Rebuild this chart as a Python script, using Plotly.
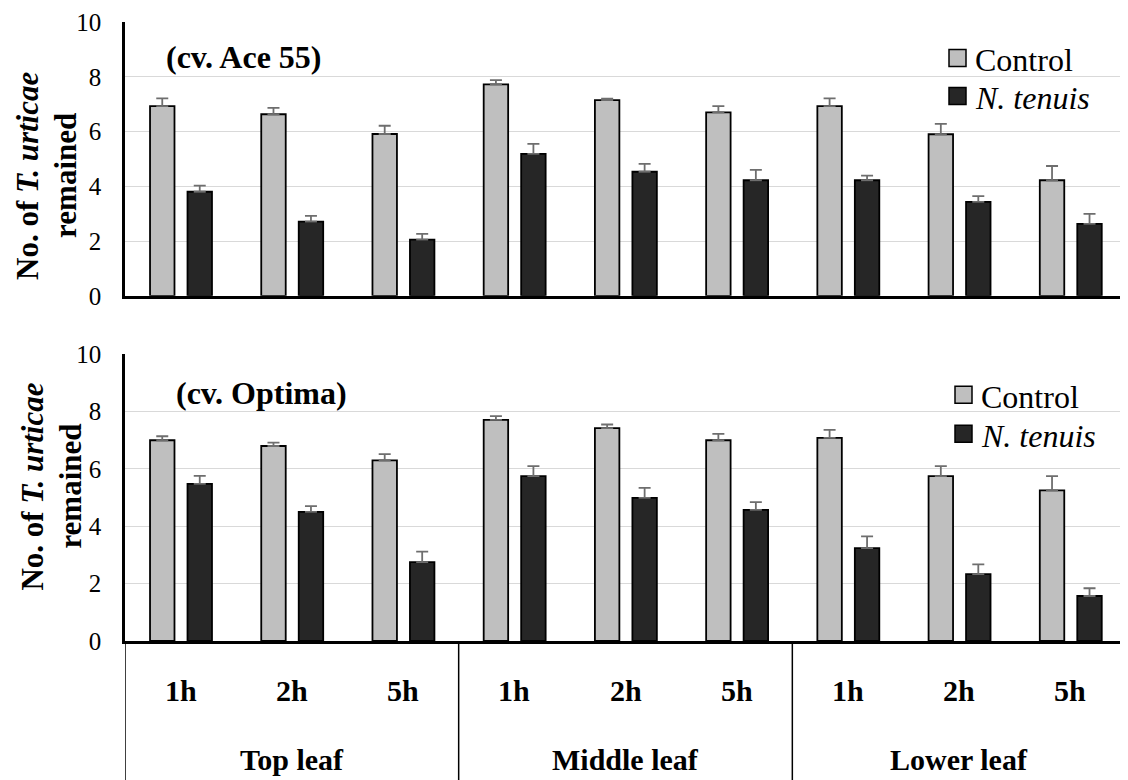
import plotly.graph_objects as go

# ---------------- data ----------------
leaves = ["Top leaf", "Middle leaf", "Lower leaf"]
times = ["1h", "2h", "5h"]
categories = [f"{leaf} {t}" for leaf in leaves for t in times]

ace_control = [6.93, 6.63, 5.91, 7.72, 7.15, 6.70, 6.93, 5.90, 4.22]
ace_control_err = [0.28, 0.23, 0.30, 0.16, 0.05, 0.23, 0.28, 0.38, 0.52]
ace_nt = [3.80, 2.71, 2.05, 5.18, 4.53, 4.22, 4.22, 3.43, 2.63]
ace_nt_err = [0.22, 0.21, 0.21, 0.37, 0.29, 0.38, 0.17, 0.21, 0.36]

opt_control = [7.00, 6.80, 6.30, 7.71, 7.42, 7.00, 7.08, 5.75, 5.25]
opt_control_err = [0.14, 0.12, 0.22, 0.13, 0.13, 0.22, 0.28, 0.35, 0.50]
opt_nt = [5.48, 4.50, 2.75, 5.75, 4.99, 4.57, 3.24, 2.33, 1.57]
opt_nt_err = [0.28, 0.20, 0.37, 0.35, 0.35, 0.27, 0.41, 0.34, 0.27]

y_ticks = [0, 2, 4, 6, 8, 10]
panel_titles = ["(cv. Ace 55)", "(cv. Optima)"]
series_names = ["Control", "<i>N. tenuis</i>"]

# ---------------- style ----------------
FONT = "Liberation Serif, 'Times New Roman', Times, 'DejaVu Serif', serif"
C_CTRL = "#BFBFBF"
C_NT = "#262626"
ERR_COLOR = "#6E6E6E"
BAR_W = 0.22
OFF_CTRL = -0.275
OFF_NT = 0.062
colors = [C_CTRL, C_NT]

# page body has an 8px margin; figure is sized so it fills the window
PAGE_OFF = 8
W, H = 1120, 772
ML, MR, MT, MB = 117, 2, 14, 138.5
plot_w = W - ML - MR
plot_h = H - MT - MB
base_fig = H - MB


def py(ref_y):
    """window pixel y -> paper y"""
    return (base_fig - (ref_y - PAGE_OFF)) / plot_h


def px(ref_x):
    """window pixel x -> paper x"""
    return ((ref_x - PAGE_OFF) - ML) / plot_w


fig = go.Figure()


def add_bars(vals, errs, color, name, off, xa, ya):
    fig.add_trace(go.Bar(
        x=categories, y=vals, name=name, xaxis=xa, yaxis=ya,
        width=BAR_W, offset=off,
        marker=dict(color=color, line=dict(color="black", width=1.8)),
        error_y=dict(type="data", array=errs, symmetric=False,
                     arrayminus=[0] * len(errs), color=ERR_COLOR,
                     thickness=1.8, width=6),
        showlegend=False,
    ))


add_bars(ace_control, ace_control_err, C_CTRL, series_names[0], OFF_CTRL, "x", "y")
add_bars(ace_nt, ace_nt_err, C_NT, series_names[1], OFF_NT, "x", "y")
add_bars(opt_control, opt_control_err, C_CTRL, series_names[0], OFF_CTRL, "x2", "y2")
add_bars(opt_nt, opt_nt_err, C_NT, series_names[1], OFF_NT, "x2", "y2")

top_domain = [py(296), 1.0]
bot_domain = [0.0, py(354.5)]

xax = dict(type="category", categoryorder="array", categoryarray=categories,
           range=[-0.5, 8.5], showticklabels=False, ticks="", showgrid=False,
           showline=True, linecolor="black", linewidth=2.5, zeroline=False,
           fixedrange=True)
yax = dict(range=[0, 10], tickvals=y_ticks, showgrid=True, gridcolor="#D9D9D9",
           gridwidth=1.3, showline=True, linecolor="black", linewidth=2.5,
           zeroline=False, ticks="outside", ticklen=16,
           tickcolor="rgba(0,0,0,0)", fixedrange=True,
           tickfont=dict(family=FONT, size=25, color="black"))

fig.update_layout(
    width=W, height=H,
    margin=dict(l=ML, r=MR, t=MT, b=MB),
    plot_bgcolor="white", paper_bgcolor="white",
    barmode="group",
    xaxis=dict(xax, domain=[0, 1], anchor="y"),
    yaxis=dict(yax, domain=top_domain, anchor="x"),
    xaxis2=dict(xax, domain=[0, 1], anchor="y2"),
    yaxis2=dict(yax, domain=bot_domain, anchor="x2"),
    showlegend=False,
    font=dict(family=FONT, color="black"),
)

annotations = []
shapes = []

# panel titles
for title, (tx, ty) in zip(panel_titles, [(164, 57), (174, 393)]):
    annotations.append(dict(text=f"<b>{title}</b>", xref="paper", yref="paper",
                            x=px(tx), y=py(ty), xanchor="left", yanchor="middle",
                            showarrow=False, font=dict(family=FONT, size=32, color="black")))

# y axis titles (two lines each)
for (x1, x2, yc) in [(28, 66, 176), (33, 71, 487)]:
    annotations.append(dict(text="<b>No. of <i>T. urticae</i></b>", xref="paper", yref="paper",
                            x=px(x1), y=py(yc), xanchor="center", yanchor="middle",
                            textangle=-90, showarrow=False,
                            font=dict(family=FONT, size=31, color="black")))
    annotations.append(dict(text="<b>remained</b>", xref="paper", yref="paper",
                            x=px(x2), y=py(yc), xanchor="center", yanchor="middle",
                            textangle=-90, showarrow=False,
                            font=dict(family=FONT, size=31, color="black")))

# legends (one per panel)
for (sx, rows) in [(949, [58, 96]), (955, [395, 434])]:
    for k, yc in enumerate(rows):
        shapes.append(dict(type="rect", xref="paper", yref="paper",
                           x0=px(sx), x1=px(sx + 17), y0=py(yc + 8.5), y1=py(yc - 8.5),
                           fillcolor=colors[k], line=dict(color="black", width=1.5)))
        annotations.append(dict(text=series_names[k], xref="paper", yref="paper",
                                x=px(sx + 24), y=py(yc + 2), xanchor="left",
                                yanchor="middle", showarrow=False,
                                font=dict(family=FONT, size=32, color="black")))

# category labels (bottom panel)
for i, cat in enumerate(categories):
    annotations.append(dict(text=f"<b>{times[i % 3]}</b>", xref="x2", yref="paper",
                            x=cat, y=py(691), xanchor="center", yanchor="middle",
                            showarrow=False, font=dict(family=FONT, size=30, color="black")))
for j, leaf in enumerate(leaves):
    annotations.append(dict(text=f"<b>{leaf}</b>", xref="x2", yref="paper",
                            x=categories[3 * j + 1], y=py(760), xanchor="center",
                            yanchor="middle", showarrow=False,
                            font=dict(family=FONT, size=30, color="black")))

# group dividers under the bottom axis
for b in [-0.5, 2.5, 5.5, 8.5]:
    shapes.append(dict(type="line", xref="x2", yref="paper", x0=b, x1=b,
                       y0=0, y1=py(800), line=dict(color="black", width=1.5)))

fig.update_layout(annotations=annotations, shapes=shapes)

fig.write_html("out.html")
